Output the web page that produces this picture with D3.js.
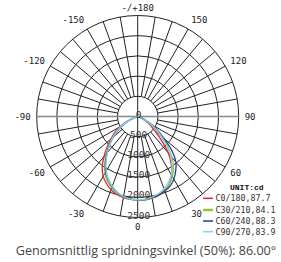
<!DOCTYPE html>
<html><head><meta charset="utf-8">
<script src="https://cdn.jsdelivr.net/npm/d3@7"></script>
<style>body{margin:0;background:#fff}svg{display:block}</style>
</head><body>
<svg id="c" width="281" height="262"></svg>
<script>
const gammas = [0,5,10,15,20,25,30,35,40,45,50,55,60,65,70,75,80,85,90];
const seriesNames = ["C0/180,87.7","C30/210,84.1","C60/240,88.3","C90/270,83.9"];
const seriesColors = ["#e8262b","#8cc63e","#223f8f","#80d2f0"];
// left half (negative side) and right half (positive side), cd per gamma
const c0Left  = [2070,2060,2040,2000,1930,1830,1710,1530,1300,1070,860,690,500,300,120,30,5,0,0];
const c0Right = [2070,2080,2055,2020,1950,1850,1680,1450,1180,820,560,380,250,130,50,15,5,0,0];
const c30Left = [2060,2055,2025,1965,1880,1770,1620,1430,1210,1000,800,630,460,260,90,25,5,0,0];
const c30Right= [2060,2070,2045,2010,1940,1850,1720,1540,1320,1020,720,500,330,170,60,15,5,0,0];
const c60Left = [2060,2050,2015,1950,1850,1730,1580,1390,1180,980,790,600,420,220,70,20,5,0,0];
const c60Right= [2060,2060,2040,2010,1960,1900,1790,1640,1470,1200,850,600,400,230,100,30,10,0,0];
const c90Left = [2060,2050,2010,1940,1840,1720,1560,1370,1170,980,800,620,450,240,80,20,5,0,0];
const c90Right= [2060,2060,2030,1980,1900,1800,1660,1480,1270,1030,760,540,360,190,70,20,5,0,0];
const ringValues = [500,1000,1500,2000,2500];
const ringLabels = ["0","500","1000","1500","2000","2500"];
const angleLabels = [
  {a:180,t:"-/+180"},{a:150,t:"150"},{a:120,t:"120"},{a:90,t:"90"},{a:60,t:"60"},{a:30,t:"30"},{a:0,t:"0"},
  {a:-30,t:"-30"},{a:-60,t:"-60"},{a:-90,t:"-90"},{a:-120,t:"-120"},{a:-150,t:"-150"}
];
const unitLabel = "UNIT:cd";
const footer = "Genomsnittlig spridningsvinkel (50%): 86.00°";

const svg = d3.select("#c");
const cx = 137.7, cy = 116.5, R = 101;
const r = d3.scaleLinear().domain([0,2500]).range([0,R]);
const g = svg.append("g").attr("transform",`translate(${cx},${cy})`);
const toRad = d => d*Math.PI/180;
const mono = "'DejaVu Sans Mono', monospace";

// spokes every 10 deg
const spokes = d3.range(0,360,10);
g.selectAll("line.sp").data(spokes.filter(d=>d%90!==0)).join("line")
  .attr("x1",d=>r(500)*Math.sin(toRad(d))).attr("y1",d=>r(500)*Math.cos(toRad(d)))
  .attr("x2",d=>R*Math.sin(toRad(d))).attr("y2",d=>R*Math.cos(toRad(d)))
  .attr("stroke","#222").attr("stroke-width",1);
// vertical axis
g.append("line").attr("x1",0).attr("x2",0).attr("y1",-R).attr("y2",R).attr("stroke","#222").attr("stroke-width",1);
// rings
g.selectAll("circle.ring").data(ringValues).join("circle")
  .attr("r",d=>r(d)).attr("fill","none").attr("stroke","#222").attr("stroke-width",1);
// horizontal axis gray
g.append("line").attr("x1",-R).attr("x2",R).attr("y1",0).attr("y2",0).attr("stroke","#888").attr("stroke-width",1.5);

// curves
const line = d3.lineRadial().angle(d=>d[0]).radius(d=>r(d[1])).curve(d3.curveCatmullRom);
const series = [[c0Left,c0Right],[c30Left,c30Right],[c60Left,c60Right],[c90Left,c90Right]];
series.forEach((s,i)=>{
  const pts = [];
  for(let k=gammas.length-1;k>=0;k--) pts.push([Math.PI+toRad(gammas[k]), s[0][k]]);
  for(let k=1;k<gammas.length;k++) pts.push([Math.PI-toRad(gammas[k]), s[1][k]]);
  g.append("path").attr("d",line(pts)).attr("fill","none")
    .attr("stroke",seriesColors[i]).attr("stroke-width",1.3);
});

// ring labels
g.selectAll("text.rl").data(ringLabels).join("text")
  .attr("x",1).attr("y",d=>r(+d)+1)
  .attr("text-anchor","middle").attr("font-family",mono).attr("font-size",9.5).attr("fill","#333")
  .text(d=>d);

// angle labels
angleLabels.forEach(o=>{
  const s = Math.sin(toRad(o.a)), c = Math.cos(toRad(o.a));
  let x = 107*s, y = 112*c, anchor = "middle";
  if (Math.abs(o.a)===180 || o.a===0){ x = 0; y = o.a===0 ? 110 : -109; }
  else anchor = o.a>0 ? "start" : "end";
  g.append("text").attr("x",x).attr("y",y).attr("dy","0.35em")
    .attr("text-anchor",anchor).attr("font-family",mono).attr("font-size",9).attr("fill","#222").text(o.t);
});

// legend
svg.append("text").attr("x",230).attr("y",189.5).attr("font-family","'Liberation Mono', monospace")
  .attr("font-weight","bold").attr("font-size",8).attr("fill","#111").text(unitLabel);
const ly = [198.3,210,221,231.7];
seriesNames.forEach((n,i)=>{
  svg.append("line").attr("x1",203).attr("x2",213).attr("y1",ly[i]).attr("y2",ly[i])
    .attr("stroke",seriesColors[i]).attr("stroke-width",i===1?2.5:1.5);
  svg.append("text").attr("x",215.5).attr("y",ly[i]).attr("dy","0.35em")
    .attr("font-family",mono).attr("font-size",8.3).attr("fill","#333").text(n);
});

svg.append("text").attr("x",146).attr("y",254.5).attr("text-anchor","middle")
  .attr("font-family","'Open Sans', sans-serif").attr("font-size",12.6).attr("fill","#444").text(footer);
</script>
</body></html>
